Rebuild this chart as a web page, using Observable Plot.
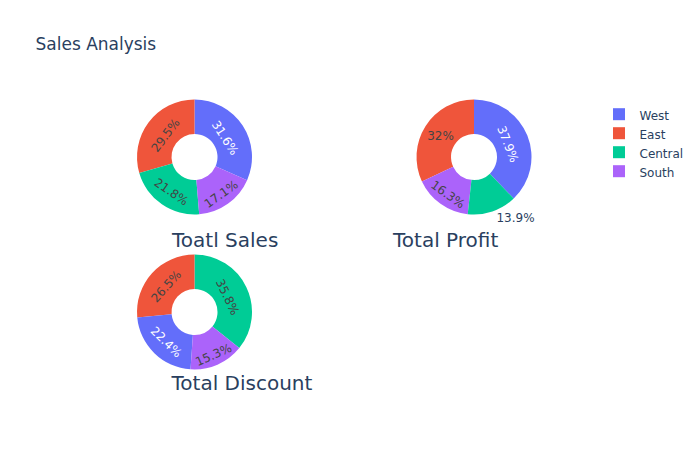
<!DOCTYPE html>
<html>
<head>
<meta charset="utf-8">
<script src="https://cdn.jsdelivr.net/npm/d3@7"></script>
<script src="https://cdn.jsdelivr.net/npm/@observablehq/plot@0.6"></script>
<style>
  html, body { margin: 0; padding: 0; background: #ffffff; }
</style>
</head>
<body>
<div id="chart"></div>
<script>
// ---------------- data (percent shares) ----------------
const regions = ["West", "East", "Central", "South"];
const salesShare = [31.6, 29.5, 21.8, 17.1];
const profitShare = [37.9, 32.0, 13.9, 16.3];
const discountShare = [22.4, 26.5, 35.8, 15.3];
const pieTitles = ["Toatl Sales", "Total Profit", "Total Discount"];
const chartTitle = "Sales Analysis";
const palette = ["#636efa", "#EF553B", "#00cc96", "#ab63fa"];

// ---------------- layout ----------------
const FONT = "DejaVu Sans";
const TEXT_COLOR = "#2a3f5f";
const R = 57.5, HOLE = 0.4, LABEL_SIZE = 12;
const LINE_H = 1.164 * LABEL_SIZE; // ascent + descent of the font
const layout = [
  {values: salesShare,    cx: 194.5, cy: 157, tx: 171.5, ty: 246},
  {values: profitShare,   cx: 474,   cy: 157, tx: 392.5, ty: 246.5},
  {values: discountShare, cx: 194.5, cy: 312, tx: 171,   ty: 389.5}
];

const ctx = document.createElement("canvas").getContext("2d");
ctx.font = `${LABEL_SIZE}px "${FONT}"`;
const fmt = d3.format(".3~r");

function contrast(hex) {
  const c = d3.rgb(hex);
  const b = (c.r * 299 + c.g * 587 + c.b * 114) / 1000;
  return b < 128 ? "#ffffff" : "#444444";
}
function calcRotate(t) { return ((t * 180 / Math.PI + 720) % 180) - 90; }
function maxHalfSize(a, half, r, ring) {
  const q = a + 1 / (2 * Math.tan(half));
  return r * Math.min(1 / (Math.sqrt(q * q + 0.5) + q), ring / (Math.sqrt(a * a + ring / 2) + a));
}
function insideTransform(w, h, half, mid) {
  const ring = 1 - HOLE;
  const rIns = Math.min(1 / (1 + 1 / Math.sin(half)), ring / 2);
  const hz = {scale: rIns * R * 2 / Math.hypot(w, h), rCenter: 1 - rIns, rotate: 0};
  if (hz.scale >= 1) return hz;
  const all = [hz];
  let a = w / h, s = maxHalfSize(a, half, R, ring);
  all.push({scale: s * 2 / h, rCenter: Math.cos(s / R) - a * s / R, rotate: calcRotate(mid)});
  a = h / w; s = maxHalfSize(a, half, R, ring);
  all.push({scale: s * 2 / w, rCenter: Math.cos(s / R) - a * s / R, rotate: calcRotate(mid + Math.PI / 2)});
  return all.reduce((m, t) => (t.scale > m.scale ? t : m));
}

const slices = [];
const labels = [];
layout.forEach(p => {
  const total = d3.sum(p.values);
  const items = regions.map((r, i) => ({region: r, v: p.values[i], color: palette[i]}))
    .sort((a, b) => b.v - a.v);
  // descending order, counterclockwise, first slice ending at 12 o'clock
  let acc = -items[0].v / total * 2 * Math.PI;
  items.forEach(it => {
    const span = it.v / total * 2 * Math.PI;
    const a0 = acc, a1 = acc + span; acc = a1;
    const start = -a1, end = -a0;
    const mid = (start + end) / 2, half = span / 2;
    slices.push({region: it.region, start, end, cx: p.cx, cy: p.cy});
    const text = fmt(it.v / total * 100) + "%";
    const w = ctx.measureText(text).width, h = LINE_H;
    const px = R * Math.sin(mid), py = -R * Math.cos(mid);
    let t = insideTransform(w, h, half, mid);
    if (t.scale < 1) {
      let dx = w / 2, dy = h / 2;
      if (px < 0) dx = -dx;
      if (py < 0) dy = -dy;
      labels.push({
        text, fill: TEXT_COLOR, rotate: 0,
        x: p.cx + px + dx + Math.abs(dy) * (dx > 0 ? 1 : -1) / 2,
        y: p.cy + py + dy / (1 + px * px / (py * py))
      });
    } else {
      labels.push({
        text, fill: contrast(it.color), rotate: t.rotate,
        x: p.cx + px * t.rCenter, y: p.cy + py * t.rCenter
      });
    }
  });
});

// donut slices drawn through Plot's x, y and color scales
const donutMark = (index, scales) => {
  const arc = d3.arc().innerRadius(R * HOLE).outerRadius(R);
  const g = d3.create("svg:g");
  g.selectAll("path").data(slices).join("path")
    .attr("transform", d => `translate(${scales.x(d.cx)},${scales.y(d.cy)})`)
    .attr("d", d => arc({startAngle: d.start, endAngle: d.end}))
    .attr("fill", d => scales.color(d.region));
  return g.node();
};

const labelMarks = Array.from(d3.group(labels, d => d.fill), ([fill, rows]) =>
  Plot.text(rows, {
    x: "x", y: "y", text: "text", rotate: "rotate",
    fill, fontSize: LABEL_SIZE, fontFamily: FONT,
    textAnchor: "middle", lineAnchor: "middle"
  })
);

const chart = Plot.plot({
  width: 700,
  height: 450,
  margin: 0,
  x: {domain: [0, 700], range: [0, 700], axis: null},
  y: {domain: [0, 450], range: [0, 450], axis: null},
  color: {domain: regions, range: palette},
  style: {background: "#ffffff", fontFamily: FONT},
  marks: [
    donutMark,
    ...labelMarks,
    // legend
    Plot.rect(regions, {
      x1: () => 613, x2: () => 625,
      y1: (d, i) => 108.2 + 19 * i, y2: (d, i) => 120.2 + 19 * i,
      fill: d => d
    }),
    Plot.text(regions, {
      x: () => 639, y: (d, i) => 119.2 + 19 * i, text: d => d,
      textAnchor: "start", lineAnchor: "bottom",
      fontSize: 12, fontFamily: FONT, fill: TEXT_COLOR
    }),
    // pie titles
    Plot.text(pieTitles, {
      x: (d, i) => layout[i].tx, y: (d, i) => layout[i].ty, text: d => d,
      textAnchor: "start", lineAnchor: "bottom",
      fontSize: 20, fontFamily: FONT, fill: TEXT_COLOR
    }),
    // chart title
    Plot.text([chartTitle], {
      x: () => 35, y: () => 49.5, text: d => d,
      textAnchor: "start", lineAnchor: "bottom",
      fontSize: 17, fontFamily: FONT, fill: TEXT_COLOR
    })
  ]
});

document.getElementById("chart").appendChild(chart);
</script>
</body>
</html>
